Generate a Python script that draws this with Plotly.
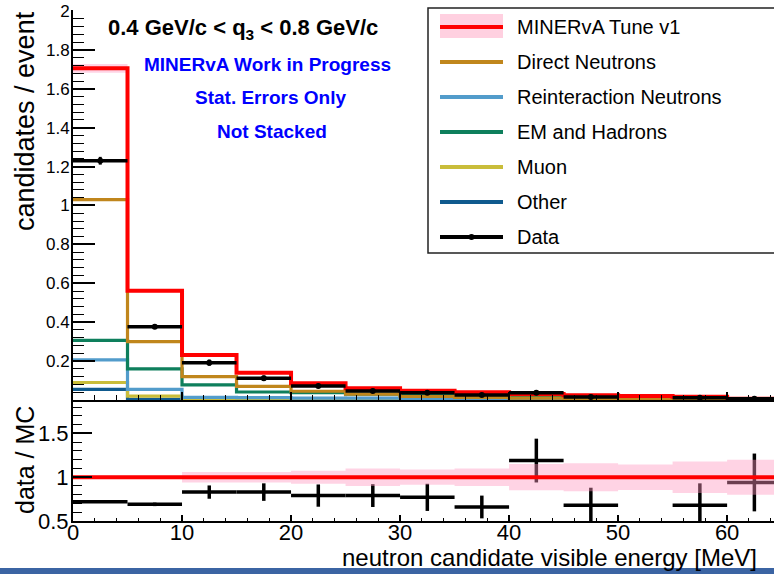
import plotly.graph_objects as go

# ---------------- data ----------------
bin_edges = [0, 5, 10, 15, 20, 25, 30, 35, 40, 45, 50, 55, 60, 65]

mc_total = [1.705, 0.562, 0.231, 0.140, 0.086, 0.060, 0.048, 0.040, 0.031, 0.024, 0.020, 0.017, 0.007]
mc_err = [0.022, 0.008, 0.005, 0.004, 0.003, 0.003, 0.003, 0.003, 0.003, 0.003, 0.003, 0.003, 0.002]
direct_neutrons = [1.03, 0.300, 0.120, 0.070, 0.045, 0.030, 0.018, 0.013, 0.010, 0.007, 0.005, 0.004, 0.002]
reint_neutrons = [0.206, 0.055, 0.014, 0.012, 0.010, 0.009, 0.007, 0.006, 0.005, 0.004, 0.003, 0.003, 0.001]
em_hadrons = [0.307, 0.160, 0.078, 0.041, 0.038, 0.030, 0.025, 0.020, 0.017, 0.013, 0.011, 0.009, 0.004]
muon = [0.090, 0.020, 0.006, 0.004, 0.003, 0.003, 0.002, 0.002, 0.002, 0.001, 0.001, 0.001, 0.001]
other = [0.055, 0.003, 0.004, 0.006, 0.007, 0.008, 0.008, 0.008, 0.008, 0.006, 0.004, 0.003, 0.001]

data_vals = [1.23, 0.377, 0.192, 0.112, 0.072, 0.046, 0.037, 0.026, 0.037, 0.016, None, 0.012, 0.0066]
data_err = [0.02, 0.011, 0.016, 0.014, 0.011, 0.008, 0.007, 0.005, 0.008, 0.005, None, 0.004, 0.0023]

ratio_vals = [0.72, 0.69, 0.83, 0.83, 0.79, 0.79, 0.77, 0.66, 1.19, 0.68, None, 0.68, 0.94]
ratio_err = [0.01, 0.02, 0.076, 0.10, 0.127, 0.13, 0.155, 0.13, 0.25, 0.20, None, 0.25, 0.33]
mc_ratio_err = [0.02, 0.02, 0.06, 0.06, 0.075, 0.10, 0.087, 0.10, 0.15, 0.16, 0.145, 0.18, 0.20]

legend_names = ["MINERvA Tune v1", "Direct Neutrons", "Reinteraction Neutrons",
                "EM and Hadrons", "Muon", "Other", "Data"]
colors = {
    "tune": "#ff0000",
    "direct": "#c0861c",
    "reint": "#529ccb",
    "em": "#0e7f5c",
    "muon": "#c9bd3a",
    "other": "#0f5a8e",
    "data": "#000000",
}
band_color = "rgba(255,150,190,0.42)"

FONT = "Liberation Sans, Arial, Helvetica, sans-serif"
OFF = 0                      # body margin removed by the post script below
WIN_W, WIN_H = 774, 574
W, H = WIN_W - OFF, WIN_H - OFF
PLOT_L, PLOT_T, PLOT_B = 73, 10, 521   # plot area in window pixels
ML, MT, MR = PLOT_L - OFF, PLOT_T - OFF, 0
MB = WIN_H - PLOT_B
PW = WIN_W - PLOT_L
PH = PLOT_B - PLOT_T


def px2x(px):
    return (px - PLOT_L) / PW


def py2y(py):
    return (PLOT_B - py) / PH


def step(vals):
    return list(vals) + [vals[-1]]


centers = [(a + b) / 2 for a, b in zip(bin_edges[:-1], bin_edges[1:])]
half_w = [(b - a) / 2 for a, b in zip(bin_edges[:-1], bin_edges[1:])]

fig = go.Figure()

# ---------------- upper panel ----------------
band_lo = [m - e for m, e in zip(mc_total, mc_err)]
band_hi = [m + e for m, e in zip(mc_total, mc_err)]
fig.add_trace(go.Scatter(x=bin_edges, y=step(band_lo), mode="lines", line=dict(width=0, shape="hv"),
                         showlegend=False, hoverinfo="skip", xaxis="x", yaxis="y"))
fig.add_trace(go.Scatter(x=bin_edges, y=step(band_hi), mode="lines", line=dict(width=0, shape="hv"),
                         fill="tonexty", fillcolor=band_color, showlegend=False, hoverinfo="skip",
                         xaxis="x", yaxis="y"))

components = [
    ("Other", other, colors["other"]),
    ("Muon", muon, colors["muon"]),
    ("Reinteraction Neutrons", reint_neutrons, colors["reint"]),
    ("EM and Hadrons", em_hadrons, colors["em"]),
    ("Direct Neutrons", direct_neutrons, colors["direct"]),
]
for name, vals, col in components:
    fig.add_trace(go.Scatter(x=bin_edges, y=step(vals), mode="lines", name=name,
                             line=dict(color=col, width=3.2, shape="hv"), showlegend=False,
                             xaxis="x", yaxis="y"))

fig.add_trace(go.Scatter(x=bin_edges, y=step(mc_total), mode="lines", name="MINERvA Tune v1",
                         line=dict(color=colors["tune"], width=4, shape="hv"), showlegend=False,
                         xaxis="x", yaxis="y"))

fig.add_trace(go.Scatter(x=centers, y=data_vals, mode="markers", name="Data",
                         marker=dict(color="black", size=6),
                         error_x=dict(type="data", array=half_w, color="black", thickness=3.5, width=0),
                         error_y=dict(type="data", array=data_err, color="black", thickness=3, width=0),
                         showlegend=False, xaxis="x", yaxis="y"))

# ---------------- lower panel ----------------
fig.add_trace(go.Scatter(x=centers, y=ratio_vals, mode="markers", name="data / MC",
                         marker=dict(color="black", size=2),
                         error_x=dict(type="data", array=half_w, color="black", thickness=3.5, width=0),
                         error_y=dict(type="data", array=ratio_err, color="black", thickness=3.5, width=0),
                         showlegend=False, xaxis="x2", yaxis="y2"))

mc_ratio = [m / m for m in mc_total]
r_lo = [r - e for r, e in zip(mc_ratio, mc_ratio_err)]
r_hi = [r + e for r, e in zip(mc_ratio, mc_ratio_err)]
fig.add_trace(go.Scatter(x=bin_edges, y=step(r_lo), mode="lines", line=dict(width=0, shape="hv"),
                         showlegend=False, hoverinfo="skip", xaxis="x2", yaxis="y2"))
fig.add_trace(go.Scatter(x=bin_edges, y=step(r_hi), mode="lines", line=dict(width=0, shape="hv"),
                         fill="tonexty", fillcolor=band_color, showlegend=False, hoverinfo="skip",
                         xaxis="x2", yaxis="y2"))
fig.add_trace(go.Scatter(x=bin_edges, y=step(mc_ratio), mode="lines",
                         line=dict(color=colors["tune"], width=4, shape="hv"),
                         showlegend=False, xaxis="x2", yaxis="y2"))

# ---------------- axes ----------------
up_bottom = py2y(400)
lo_top = py2y(401)

fig.update_layout(
    width=W, height=H,
    margin=dict(l=ML, r=MR, t=MT, b=MB, pad=0, autoexpand=False),
    paper_bgcolor="white", plot_bgcolor="white",
    font=dict(family=FONT, color="black"),
    showlegend=False,
    xaxis=dict(domain=[0, 1], range=[0, 64.3], anchor="y", showticklabels=False,
               ticks="inside", ticklen=8, tickwidth=1.5, tickcolor="black", dtick=10, tick0=0,
               minor=dict(ticks="inside", ticklen=5, dtick=2, tickcolor="black", tickwidth=1.2),
               showline=True, linecolor="black", linewidth=2, mirror=False,
               showgrid=False, zeroline=False),
    yaxis=dict(domain=[up_bottom, 1], range=[0, 2.005], anchor="x",
               tickvals=[0.2, 0.4, 0.6, 0.8, 1.0, 1.2, 1.4, 1.6, 1.8, 2.0],
               ticks="inside", ticklen=22, tickwidth=1.5, tickcolor="black",
               minor=dict(ticks="inside", ticklen=11, dtick=0.04, tick0=0, tickcolor="black", tickwidth=1.2),
               tickfont=dict(size=17, family=FONT), ticklabelstandoff=-2, ticklabeloverflow="allow",
               showline=True, linecolor="black", linewidth=2,
               showgrid=False, zeroline=False),
    xaxis2=dict(domain=[0, 1], range=[0, 64.3], anchor="y2", matches="x",
                ticks="inside", ticklen=6, tickwidth=1.5, tickcolor="black", dtick=10, tick0=0,
                minor=dict(ticks="inside", ticklen=3, dtick=2, tickcolor="black", tickwidth=1.2),
                tickfont=dict(size=22, family=FONT), ticklabelstandoff=-9, ticklabeloverflow="allow",
                showline=True, linecolor="black", linewidth=2, mirror=False,
                showgrid=False, zeroline=False),
    yaxis2=dict(domain=[0, lo_top], range=[0.5, 1.87], anchor="x2",
                tickvals=[0.5, 1.0, 1.5], ticktext=["0.5", "1", "1.5"],
                ticks="inside", ticklen=19, tickwidth=1.5, tickcolor="black",
                minor=dict(ticks="inside", ticklen=9, dtick=0.1, tick0=0.5, tickcolor="black", tickwidth=1.2),
                tickfont=dict(size=22, family=FONT), ticklabelstandoff=-2, ticklabeloverflow="allow",
                showline=True, linecolor="black", linewidth=2,
                showgrid=False, zeroline=False),
)

shapes = []
annotations = []

# top frame line of lower pad
shapes.append(dict(type="line", xref="paper", yref="paper", x0=0, x1=1, y0=lo_top, y1=lo_top,
                   line=dict(color="black", width=2)))

# slide footer bar
shapes.append(dict(type="rect", xref="paper", yref="paper", x0=px2x(0), x1=px2x(WIN_W + 5),
                   y0=py2y(WIN_H + 5), y1=py2y(568), line=dict(width=0), fillcolor="#3b64a3", layer="above"))

# legend box
shapes.append(dict(type="rect", xref="paper", yref="paper", x0=px2x(428), x1=px2x(WIN_W + 10),
                   y0=py2y(253), y1=py2y(8), line=dict(color="#222222", width=1.5),
                   fillcolor="white", layer="above"))

leg_y = [27, 62, 97, 132, 167, 202, 237]
leg_cols = [colors["tune"], colors["direct"], colors["reint"], colors["em"],
            colors["muon"], colors["other"], colors["data"]]
for name, yy, col in zip(legend_names, leg_y, leg_cols):
    if name == "MINERvA Tune v1":
        shapes.append(dict(type="rect", xref="paper", yref="paper", x0=px2x(440), x1=px2x(503),
                           y0=py2y(38), y1=py2y(14), line=dict(width=0),
                           fillcolor="#ffd0e0", layer="above"))
    shapes.append(dict(type="line", xref="paper", yref="paper", x0=px2x(440), x1=px2x(503),
                       y0=py2y(yy), y1=py2y(yy), line=dict(color=col, width=4), layer="above"))
    if name == "Data":
        shapes.append(dict(type="circle", xref="paper", yref="paper", x0=px2x(468.5), x1=px2x(474.5),
                           y0=py2y(yy + 3), y1=py2y(yy - 3), line=dict(width=0),
                           fillcolor="black", layer="above"))
    annotations.append(dict(text=name, xref="paper", yref="paper", x=px2x(515), y=py2y(yy),
                            xanchor="left", yanchor="middle", showarrow=False,
                            font=dict(size=20, family=FONT, color="black")))

# in-plot labels
annotations.append(dict(text="<b>0.4 GeV/c &lt; q<sub>3</sub> &lt; 0.8 GeV/c</b>", xref="paper", yref="paper",
                        x=px2x(243), y=py2y(29), xanchor="center", yanchor="middle", showarrow=False,
                        font=dict(size=22, family=FONT, color="black")))
for txt, yy, xx in [("MINERvA Work in Progress", 64, 267), ("Stat. Errors Only", 97, 270),
                    ("Not Stacked", 131, 272)]:
    annotations.append(dict(text="<b>" + txt + "</b>", xref="paper", yref="paper", x=px2x(xx), y=py2y(yy),
                            xanchor="center", yanchor="middle", showarrow=False,
                            font=dict(size=19, family=FONT, color="#0000ff")))

# axis titles (ROOT style, aligned to the axis end)
annotations.append(dict(text="candidates / event", xref="paper", yref="paper", x=px2x(25), y=py2y(121),
                        xanchor="center", yanchor="middle", textangle=-90, showarrow=False,
                        font=dict(size=27, family=FONT, color="black")))
annotations.append(dict(text="data / MC", xref="paper", yref="paper", x=px2x(25), y=py2y(460),
                        xanchor="center", yanchor="middle", textangle=-90, showarrow=False,
                        font=dict(size=25, family=FONT, color="black")))
annotations.append(dict(text="neutron candidate visible energy [MeV]", xref="paper", yref="paper",
                        x=px2x(759), y=py2y(557), xanchor="right", yanchor="middle", showarrow=False,
                        font=dict(size=24, family=FONT, color="black")))

fig.update_layout(shapes=shapes, annotations=annotations)

fig.write_html("out.html",
               config={"displayModeBar": False},
               post_script="document.body.style.margin='0px';document.body.style.overflow='hidden';")
